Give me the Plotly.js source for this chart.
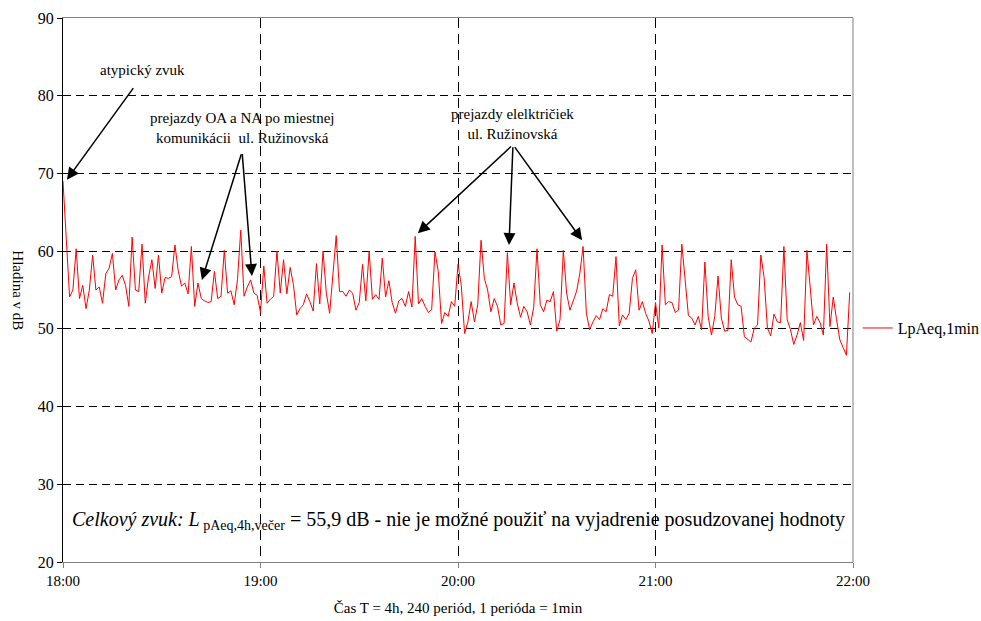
<!DOCTYPE html>
<html>
<head>
<meta charset="utf-8">
<script src="https://cdn.plot.ly/plotly-3.0.1.min.js"></script>
<style>html,body{margin:0;padding:0;background:#fff;}#chart{width:981px;height:621px;}</style>
</head>
<body>
<div id="chart"></div>
<script>
// LpAeq,1min values, one array per hour (60 one-minute periods each)
const hour18 = [69.0, 62.0, 54.1, 55.0, 60.3, 53.9, 55.6, 52.6, 55.0, 59.5,
  55.0, 55.4, 53.3, 57.1, 57.8, 59.7, 55.0, 56.3, 56.9, 55.6,
  52.9, 61.8, 55.0, 54.8, 60.9, 53.3, 56.7, 58.9, 55.2, 59.5,
  54.6, 56.6, 56.5, 56.7, 60.8, 57.5, 55.5, 55.9, 54.5, 60.6,
  52.9, 55.9, 53.9, 53.6, 53.4, 53.5, 57.4, 53.9, 54.2, 60.1,
  54.6, 54.9, 53.1, 56.3, 62.7, 54.2, 55.4, 56.3, 54.6, 54.3];
const hour19 = [52.1, 58.1, 53.3, 53.8, 54.2, 60.0, 54.6, 58.9, 54.5, 57.9,
  55.7, 51.8, 52.6, 53.1, 54.5, 53.5, 52.3, 58.4, 53.2, 60.0,
  54.6, 52.0, 56.7, 62.0, 54.8, 54.8, 54.2, 55.0, 54.6, 52.4,
  53.4, 58.3, 53.6, 60.0, 53.8, 54.4, 53.8, 59.1, 54.1, 56.2,
  53.4, 52.0, 53.6, 53.9, 52.9, 54.8, 52.8, 61.9, 53.2, 53.9,
  52.9, 52.1, 52.5, 59.9, 57.4, 50.7, 52.1, 51.6, 53.5, 52.9];
const hour20 = [58.3, 55.6, 49.4, 50.9, 53.5, 50.9, 53.1, 61.4, 56.5, 55.0,
  52.2, 53.9, 52.9, 50.5, 50.7, 59.8, 53.1, 55.9, 53.3, 51.5,
  52.9, 52.2, 50.5, 52.8, 60.3, 53.1, 52.2, 53.7, 53.5, 54.8,
  49.7, 51.2, 60.1, 54.6, 52.4, 53.6, 54.8, 57.1, 60.6, 52.0,
  49.9, 50.9, 51.7, 51.2, 52.6, 52.2, 54.4, 54.2, 59.3, 50.4,
  51.8, 51.2, 52.0, 56.5, 57.6, 52.4, 53.5, 52.0, 51.0, 49.4];
const hour21 = [53.4, 50.1, 60.8, 53.1, 53.5, 53.4, 52.1, 52.4, 60.9, 56.3,
  51.7, 51.4, 50.5, 51.6, 49.9, 58.6, 51.6, 49.2, 51.6, 56.8,
  51.4, 49.7, 49.8, 58.9, 54.1, 53.1, 52.9, 49.0, 48.7, 48.3,
  50.1, 50.5, 59.5, 56.6, 50.1, 49.1, 51.9, 50.9, 50.8, 60.6,
  51.2, 49.9, 48.0, 49.2, 50.8, 48.5, 60.1, 55.0, 50.5, 51.6,
  50.8, 49.2, 60.9, 50.3, 54.1, 51.2, 48.6, 47.6, 46.6, 54.7];

const tickMinutes = [0, 60, 120, 180, 240];
const tickLabels = ['18:00', '19:00', '20:00', '21:00', '22:00'];
const yTicks = [20, 30, 40, 50, 60, 70, 80, 90];
const seriesName = 'LpAeq,1min';

const values = hour18.concat(hour19, hour20, hour21);
const minutes = values.map((_, i) => i);

const FONT = 'Liberation Serif, Times New Roman, serif';

const trace = {
  x: minutes, y: values, type: 'scatter', mode: 'lines',
  name: seriesName,
  line: {color: '#ff0000', width: 1}
};

function arrow(tx, ty, fx, fy) {
  return {x: tx, y: ty, xref: 'x', yref: 'y', ax: fx, ay: fy, axref: 'x', ayref: 'y',
    text: ' ', showarrow: true, arrowhead: 2, arrowsize: 1.6, arrowwidth: 1.5, arrowcolor: '#000', standoff: 0,
    font: {family: FONT, size: 2}};
}
function label(x, y, text, size) {
  return {x: x, y: y, xref: 'x', yref: 'y', text: text, showarrow: false,
    font: {family: FONT, size: size || 15, color: '#000'}, align: 'center'};
}

const layout = {
  width: 981, height: 621,
  margin: {l: 63, r: 128, t: 18, b: 59, autoexpand: false},
  paper_bgcolor: '#fff', plot_bgcolor: '#fff',
  font: {family: FONT, color: '#000'},
  showlegend: true,
  legend: {x: 1.006, xanchor: 'left', y: 0.43, yanchor: 'middle', font: {family: FONT, size: 16, color: '#000'}, bgcolor: 'rgba(0,0,0,0)'},
  xaxis: {
    range: [0, 240], tickmode: 'array', tickvals: tickMinutes, ticktext: tickLabels,
    showgrid: true, gridcolor: '#000', griddash: '10px,6px', gridwidth: 1,
    showline: true, linecolor: '#808080', linewidth: 1, mirror: true,
    ticks: 'outside', ticklen: 5, tickcolor: '#808080',
    tickfont: {family: FONT, size: 15, color: '#000'}, zeroline: false, automargin: false,
    title: {text: 'Čas T = 4h, 240 periód, 1 perióda = 1min', font: {family: FONT, size: 15, color: '#000'}, standoff: 14}
  },
  yaxis: {
    range: [20, 90], tickmode: 'array', tickvals: yTicks,
    showgrid: true, gridcolor: '#000', griddash: '8px,5px', gridwidth: 1,
    showline: true, linecolor: '#000', linewidth: 1,
    ticks: 'outside', ticklen: 5, tickcolor: '#000',
    tickfont: {family: FONT, size: 16, color: '#000'}, zeroline: false, automargin: false
  },
  shapes: [
    {type: 'line', xref: 'paper', yref: 'paper', x0: 1, x1: 1, y0: 0, y1: 1, line: {color: '#808080', width: 1}, layer: 'above'}
  ],
  annotations: [
    {xref: 'paper', yref: 'paper', x: -0.07, y: 0.5, text: 'Hladina v dB', textangle: 90, showarrow: false,
      font: {family: FONT, size: 15, color: '#000'}},
    label(24, 83.3, 'atypický zvuk'),
    arrow(1.2, 69.2, 21.9, 81.3),
    label(54.4, 75.8, 'prejazdy OA a NA po miestnej<br>komunikácii  ul. Ružinovská'),
    arrow(42.2, 56.3, 54.4, 72.8),
    arrow(57.4, 56.8, 54.4, 72.8),
    label(136.7, 76.4, 'prejazdy elelktričiek<br>ul. Ružinovská'),
    arrow(107.8, 62.3, 136.7, 73.7),
    arrow(135.5, 60.8, 136.7, 73.7),
    arrow(157.7, 61.4, 136.7, 73.7),
    label(120.3, 25.3, '<i>Celkový zvuk: L</i><sub> pAeq,4h,večer</sub> = 55,9 dB - nie je možné použiť na vyjadrenie posudzovanej hodnoty', 20)
  ]
};

Plotly.newPlot('chart', [trace], layout, {displayModeBar: false, responsive: false});
</script>
</body>
</html>
